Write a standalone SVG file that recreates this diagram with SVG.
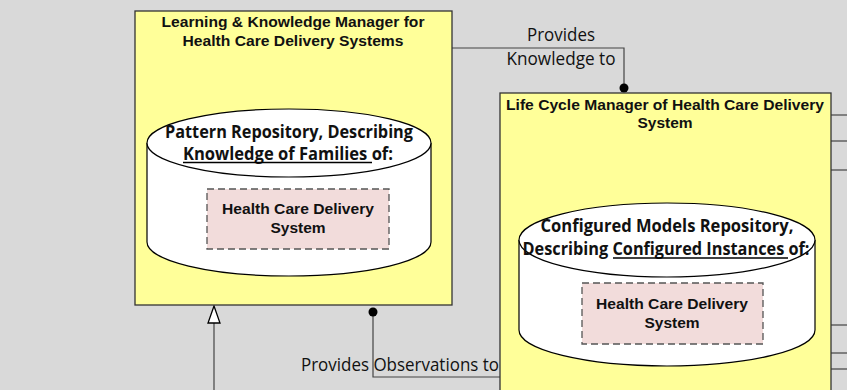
<svg xmlns="http://www.w3.org/2000/svg" width="847" height="390" viewBox="0 0 847 390">
<defs>
<style>
.box{fill:#ffff99;stroke:#333;stroke-width:1.3}
.cyl{fill:#fff;stroke:#000;stroke-width:1.2}
.inner{fill:#f2dcdb;stroke:#555;stroke-width:1.3;stroke-dasharray:7 4}
.title{font-family:"Liberation Sans",Arial,sans-serif;font-weight:bold;font-size:15.5px;fill:#111;text-anchor:middle}
.cal{font-family:"Open Sans","Noto Sans",sans-serif;fill:#111;text-anchor:middle}
.cb{font-weight:bold;font-size:17px}
.lbl{font-size:17.5px}
.conn{fill:none;stroke:#444;stroke-width:1.2}
.ul{stroke:#000;stroke-width:1.4}
</style>
</defs>
<rect width="847" height="390" fill="#d9d9d9"/>

<g id="connectors">
<polyline class="conn" points="452,48 624,48 624,88"/>
<circle cx="624" cy="88" r="4.5" fill="#000"/>
<polyline class="conn" points="373,312 373,377 500,377"/>
<circle cx="373" cy="312" r="4.5" fill="#000"/>
<line class="conn" x1="214" y1="323" x2="214" y2="390" stroke="#000"/>
<polygon points="214,306 208,323 220,323" fill="#fff" stroke="#000" stroke-width="1.3"/>
<line class="conn" x1="831" y1="115" x2="847" y2="115"/>
<line class="conn" x1="831" y1="141" x2="847" y2="141"/>
<line class="conn" x1="831" y1="170" x2="847" y2="170"/>
<line class="conn" x1="831" y1="325" x2="847" y2="325"/>
<line class="conn" x1="831" y1="353" x2="847" y2="353"/>
<line class="conn" x1="831" y1="369" x2="847" y2="369"/>
<text class="cal lbl" x="561" y="41" textLength="68" lengthAdjust="spacingAndGlyphs">Provides</text>
<text class="cal lbl" x="561" y="65" textLength="109" lengthAdjust="spacingAndGlyphs">Knowledge to</text>
<text class="cal lbl" x="400" y="371" textLength="198" lengthAdjust="spacingAndGlyphs">Provides Observations to</text>
</g>

<g id="learning-manager">
<rect class="box" x="135" y="11" width="317" height="294"/>
<text class="title" x="293" y="27" textLength="263" lengthAdjust="spacingAndGlyphs">Learning &amp; Knowledge Manager for</text>
<text class="title" x="293" y="46" textLength="221" lengthAdjust="spacingAndGlyphs">Health Care Delivery Systems</text>
</g>

<g id="pattern-repository">
<path class="cyl" d="M147,143 L147,242 A142,34 0 0 0 431,242 L431,143"/>
<ellipse class="cyl" cx="289" cy="143" rx="142" ry="34"/>
<text class="cal cb" x="289" y="138" textLength="248" lengthAdjust="spacingAndGlyphs">Pattern Repository, Describing</text>
<text class="cal cb" x="288" y="160" textLength="210" lengthAdjust="spacingAndGlyphs">Knowledge of Families of:</text>
<line class="ul" x1="183" y1="162.5" x2="372" y2="162.5"/>
</g>

<g id="hcds-family">
<rect class="inner" x="207" y="189" width="182" height="60"/>
<text class="title" x="298" y="214" textLength="152" lengthAdjust="spacingAndGlyphs">Health Care Delivery</text>
<text class="title" x="298" y="233">System</text>
</g>

<g id="lifecycle-manager">
<rect class="box" x="500" y="93" width="331" height="310"/>
<text class="title" x="665" y="110" textLength="318" lengthAdjust="spacingAndGlyphs">Life Cycle Manager of Health Care Delivery</text>
<text class="title" x="665" y="128">System</text>
</g>

<g id="configured-repository">
<path class="cyl" d="M519,240 L519,330 A148,36 0 0 0 815,330 L815,240"/>
<ellipse class="cyl" cx="667" cy="240" rx="148" ry="37"/>
<text class="cal cb" x="667" y="232" textLength="253" lengthAdjust="spacingAndGlyphs">Configured Models Repository,</text>
<text class="cal cb" x="666" y="255" textLength="287" lengthAdjust="spacingAndGlyphs">Describing Configured Instances of:</text>
<line class="ul" x1="613" y1="258" x2="788" y2="258"/>
</g>

<g id="hcds-instance">
<rect class="inner" x="582" y="283" width="181" height="61"/>
<text class="title" x="672" y="309" textLength="152" lengthAdjust="spacingAndGlyphs">Health Care Delivery</text>
<text class="title" x="672" y="328">System</text>
</g>
</svg>
